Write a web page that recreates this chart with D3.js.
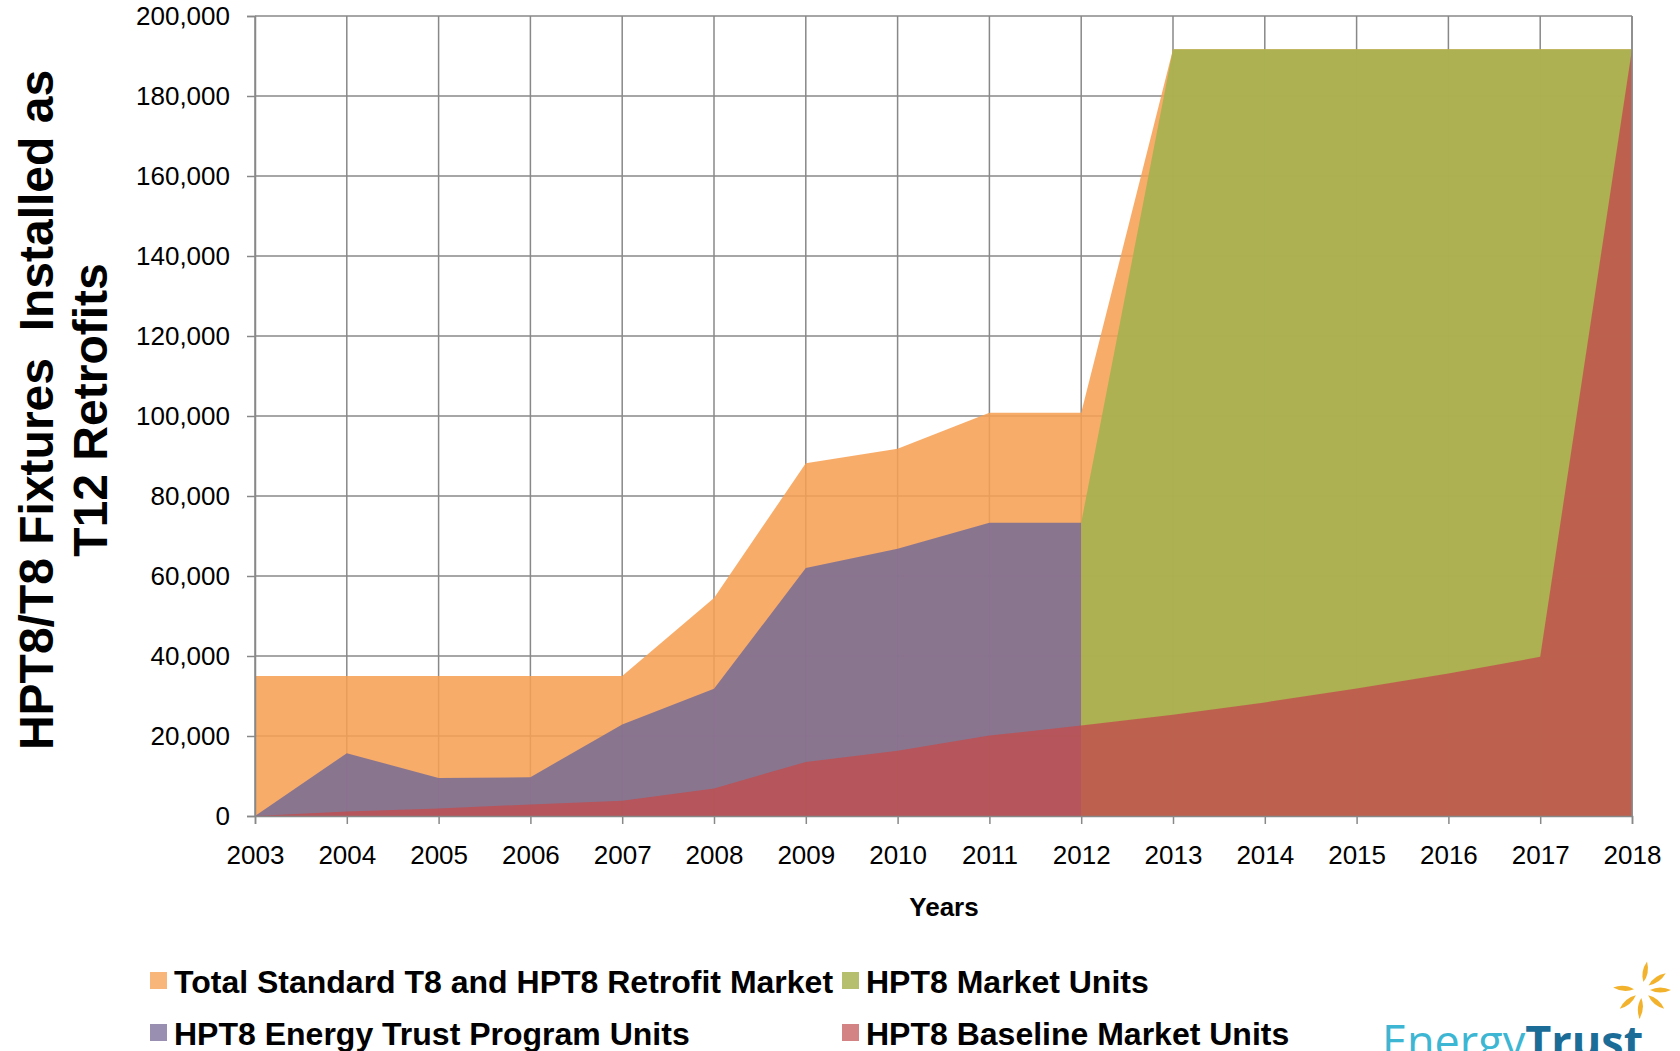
<!DOCTYPE html>
<html>
<head>
<meta charset="utf-8">
<script src="https://cdn.jsdelivr.net/npm/d3@7"></script>
<style>
	body { margin: 0; background: #fff; overflow: hidden; }
	svg text { font-family: "Liberation Sans", Arial, sans-serif; }
</style>
</head>
<body>
<div id="vis_container"></div>
<script>
// values, one entry per year
var years = [2003, 2004, 2005, 2006, 2007, 2008, 2009, 2010, 2011, 2012, 2013, 2014, 2015, 2016, 2017, 2018];
var totalMarket = [35000, 35000, 35000, 35000, 35000, 54500, 88200, 91800, 100800, 100800, 191700, 191700, 191700, 191700, 191700, 191700];
var programUnits = [0, 15700, 9500, 9700, 22900, 31800, 62000, 66800, 73300, 73300, null, null, null, null, null, null];
var marketUnits = [null, null, null, null, null, null, null, null, null, 73300, 191700, 191700, 191700, 191700, 191700, 191700];
var baselineUnits = [0, 1100, 1900, 2900, 3800, 6900, 13500, 16300, 20100, 22600, 25300, 28400, 31900, 35600, 39800, 191700];
var yTicks = [0, 20000, 40000, 60000, 80000, 100000, 120000, 140000, 160000, 180000, 200000];
var seriesNames = ["Total Standard T8 and HPT8 Retrofit Market", "HPT8 Energy Trust Program Units", "HPT8 Market Units", "HPT8 Baseline Market Units"];

var chart = {};
chart.width = 1680;
chart.height = 1051;
chart.margin = {"top": 16, "left": 255, "right": 48, "bottom": 235};

chart.series = [
	{name: seriesNames[0], values: totalMarket, color: "#F7A053", opacity: 0.87},
	{name: seriesNames[1], values: programUnits, color: "#776B97", opacity: 0.85},
	{name: seriesNames[2], values: marketUnits, color: "#A7B250", opacity: 0.93},
	{name: seriesNames[3], values: baselineUnits, color: "#C04E4E", opacity: 0.8}
];

chart.x = d3.scaleLinear()
	.domain([years[0], years[years.length - 1]])
	.range([chart.margin.left, chart.width - chart.margin.right]);

chart.y = d3.scaleLinear()
	.domain([0, 200000])
	.range([chart.height - chart.margin.bottom, chart.margin.top]);

chart.svg = d3.select("#vis_container").append("svg")
	.attr("width", chart.width)
	.attr("height", chart.height);

// gridlines behind the areas
chart.grid = chart.svg.append("g").attr("class", "grid");
chart.grid.selectAll(".hgrid")
	.data(yTicks)
	.enter()
	.append("line")
		.attr("x1", chart.x.range()[0])
		.attr("x2", chart.x.range()[1])
		.attr("y1", function(d) { return chart.y(d); })
		.attr("y2", function(d) { return chart.y(d); })
		.attr("stroke", "#888")
		.attr("stroke-width", 1.5);
chart.grid.selectAll(".vgrid")
	.data(years)
	.enter()
	.append("line")
		.attr("x1", function(d) { return chart.x(d); })
		.attr("x2", function(d) { return chart.x(d); })
		.attr("y1", chart.y.range()[0])
		.attr("y2", chart.y.range()[1])
		.attr("stroke", "#888")
		.attr("stroke-width", 1.5);

// areas, drawn from zero, later ones on top
chart.area = d3.area()
	.defined(function(d) { return d.value !== null; })
	.x(function(d) { return chart.x(d.year); })
	.y0(chart.y(0))
	.y1(function(d) { return chart.y(d.value); });

chart.svg.append("g").selectAll("path")
	.data(chart.series)
	.enter()
	.append("path")
		.attr("d", function(s) {
			return chart.area(years.map(function(yr, i) { return {year: yr, value: s.values[i]}; }));
		})
		.attr("fill", function(s) { return s.color; })
		.attr("fill-opacity", function(s) { return s.opacity; });

// axes
chart.yAxis = chart.svg.append("g")
	.attr("transform", "translate(" + chart.x.range()[0] + ",0)")
	.call(d3.axisLeft(chart.y).tickValues(yTicks).tickFormat(d3.format(",")).tickSize(8).tickPadding(17));

chart.xAxis = chart.svg.append("g")
	.attr("transform", "translate(0," + chart.y(0) + ")")
	.call(d3.axisBottom(chart.x).tickValues(years).tickFormat(d3.format("d")).tickSize(8).tickPadding(22));

chart.svg.selectAll(".domain").attr("stroke", "#888").attr("stroke-width", 1.5);
chart.svg.selectAll(".tick line").attr("stroke", "#888").attr("stroke-width", 1.5);
chart.svg.selectAll(".tick text").attr("font-size", 26).attr("fill", "#000")
	.style("font-family", "'Liberation Sans', Arial, sans-serif");

// right border on top
chart.svg.append("line")
	.attr("x1", chart.x.range()[1]).attr("x2", chart.x.range()[1])
	.attr("y1", chart.y.range()[0]).attr("y2", chart.y.range()[1])
	.attr("stroke", "#888").attr("stroke-width", 1.5);

// axis titles
chart.svg.append("text")
	.attr("x", 944)
	.attr("y", 916)
	.attr("text-anchor", "middle")
	.attr("font-size", 26)
	.attr("font-weight", "bold")
	.text("Years");

chart.yTitle = chart.svg.append("g");
chart.yTitle.append("text")
	.attr("transform", "translate(53,410) rotate(-90)")
	.attr("text-anchor", "middle")
	.attr("font-size", 48)
	.attr("font-weight", "bold")
	.style("white-space", "pre")
	.text("HPT8/T8 Fixtures  Installed as");
chart.yTitle.append("text")
	.attr("transform", "translate(107,410) rotate(-90)")
	.attr("text-anchor", "middle")
	.attr("font-size", 48)
	.attr("font-weight", "bold")
	.text("T12 Retrofits");

// legend, two rows by two columns
chart.legendPos = [[150, 981], [150, 1033], [842, 981], [842, 1033]];
chart.legend = chart.svg.append("g").selectAll("g")
	.data(chart.series)
	.enter()
	.append("g")
		.attr("transform", function(d, i) { return "translate(" + chart.legendPos[i][0] + "," + chart.legendPos[i][1] + ")"; });
chart.legend.append("rect")
	.attr("x", 0)
	.attr("y", -9)
	.attr("width", 17)
	.attr("height", 17)
	.attr("fill", function(s) { return s.color; })
	.attr("fill-opacity", function(s) { return s.opacity - 0.1; });
chart.legend.append("text")
	.attr("x", 24)
	.attr("dy", "0.36em")
	.attr("font-size", 32)
	.attr("font-weight", "bold")
	.text(function(s) { return s.name; });

// Energy Trust logo, cut off by the bottom edge as in the source
chart.logo = chart.svg.append("g");
chart.logo.append("text")
	.attr("x", 1382)
	.attr("y", 1058)
	.attr("font-size", 45)
	.attr("fill", "#3DB6D3")
	.style("font-family", "'Open Sans', 'Liberation Sans', sans-serif")
	.text("Energy")
	.append("tspan")
		.attr("font-weight", "bold")
		.attr("fill", "#1B6C97")
		.text("Trust");

chart.rays = [-80, -35, 0, 40, 95, 140, 185];
chart.logo.append("g")
	.attr("transform", "translate(1642,990)")
	.selectAll("path")
	.data(chart.rays)
	.enter()
	.append("path")
		.attr("d", "M8,0 Q18,-5 29,0 Q18,5 8,0 Z")
		.attr("transform", function(d) { return "rotate(" + d + ")"; })
		.attr("fill", "#F2B22C");
</script>
</body>
</html>
